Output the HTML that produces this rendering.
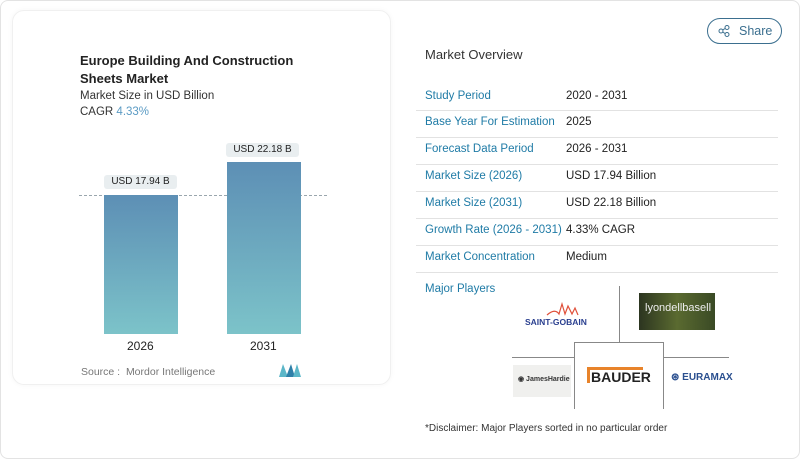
<!DOCTYPE html>
<html><head><style>
*{margin:0;padding:0;box-sizing:border-box}
body{width:800px;height:459px;background:#fff;font-family:"Liberation Sans",sans-serif;position:relative;overflow:hidden}
.abs{position:absolute}
.outer{left:0;top:0;width:800px;height:459px;border:1px solid #e3e3e3;border-radius:8px}
.card{left:12px;top:10px;width:379px;height:375px;border:1px solid #f0f0f0;border-radius:12px;box-shadow:0 0 6px rgba(0,0,0,0.04)}
.t{color:#222}
.lbl{left:425px;color:#1f7ba6;font-size:11.5px;white-space:nowrap}
.val{left:566px;color:#222;font-size:11.5px}
.sep{left:416px;width:362px;height:1px;background:#e2e2e2}
.bar{background:linear-gradient(#5d8fb5,#7cc3c9)}
.tag{background:#e9eef0;border-radius:3px;font-size:10px;color:#222;text-align:center;line-height:14px}
</style></head><body>
<div class="abs outer"></div>
<div class="abs card"></div>
<div class="abs t" style="left:80px;top:52px;font-size:13px;font-weight:bold;line-height:18px;width:240px">Europe Building And Construction Sheets Market</div>
<div class="abs t" style="left:80px;top:90px;font-size:11.5px;color:#333">Market Size in USD Billion</div>
<div class="abs t" style="left:80px;top:106px;font-size:11.5px;color:#333">CAGR <span style="color:#5b9bc4">4.33%</span></div>
<div class="abs" style="left:79px;top:195px;width:248px;border-top:1px dashed #9aa6ad"></div>
<div class="abs bar" style="left:104px;top:195px;width:74px;height:139px"></div>
<div class="abs bar" style="left:227px;top:162px;width:74px;height:172px"></div>
<div class="abs tag" style="left:104px;top:175px;width:73px">USD 17.94 B</div>
<div class="abs tag" style="left:226px;top:143px;width:73px">USD 22.18 B</div>
<div class="abs t" style="left:127px;top:339px;font-size:12px">2026</div>
<div class="abs t" style="left:250px;top:339px;font-size:12px">2031</div>
<div class="abs" style="left:81px;top:366px;font-size:10.5px;color:#777">Source :&nbsp; Mordor Intelligence</div>
<svg class="abs" style="left:279px;top:364px" width="22" height="13"><polygon points="0,13 4,0 9,13" fill="#5bb6c8"/><polygon points="7,13 12,0 16,13" fill="#2e7fa8"/><polygon points="14,13 18,0 22,13 " fill="#5bb6c8"/></svg>
<div class="abs" style="left:707px;top:18px;width:75px;height:26px;border:1px solid #3b6f8f;border-radius:13px;font-size:12.5px;color:#3b6f8f;line-height:24px;padding-left:31px">Share</div>
<svg class="abs" style="left:718px;top:25px" width="12" height="12"><circle cx="3" cy="6" r="2" fill="none" stroke="#3b6f8f"/><circle cx="9" cy="2.5" r="2" fill="none" stroke="#3b6f8f"/><circle cx="9" cy="9.5" r="2" fill="none" stroke="#3b6f8f"/><line x1="4.5" y1="5" x2="7.5" y2="3.3" stroke="#3b6f8f"/><line x1="4.5" y1="7" x2="7.5" y2="8.7" stroke="#3b6f8f"/></svg>
<div class="abs t" style="left:425px;top:47px;font-size:13px;color:#333">Market Overview</div>
<div class="abs lbl" style="top:90px">Study Period</div><div class="abs val" style="top:90px">2020 - 2031</div>
<div class="abs sep" style="top:110px"></div>
<div class="abs lbl" style="top:116px">Base Year For Estimation</div><div class="abs val" style="top:116px">2025</div>
<div class="abs sep" style="top:137px"></div>
<div class="abs lbl" style="top:143px">Forecast Data Period</div><div class="abs val" style="top:143px">2026 - 2031</div>
<div class="abs sep" style="top:164px"></div>
<div class="abs lbl" style="top:170px">Market Size (2026)</div><div class="abs val" style="top:170px">USD 17.94 Billion</div>
<div class="abs sep" style="top:191px"></div>
<div class="abs lbl" style="top:197px">Market Size (2031)</div><div class="abs val" style="top:197px">USD 22.18 Billion</div>
<div class="abs sep" style="top:218px"></div>
<div class="abs lbl" style="top:224px">Growth Rate (2026 - 2031)</div><div class="abs val" style="top:224px">4.33% CAGR</div>
<div class="abs sep" style="top:245px"></div>
<div class="abs lbl" style="top:251px">Market Concentration</div><div class="abs val" style="top:251px">Medium</div>
<div class="abs sep" style="top:272px"></div>
<div class="abs lbl" style="top:283px;font-size:11.5px">Major Players</div>
<div class="abs" style="left:619px;top:286px;width:1px;height:56px;background:#888"></div>
<div class="abs" style="left:512px;top:357px;width:217px;height:1px;background:#888"></div>
<div class="abs" style="left:574px;top:342px;width:90px;height:67px;border:1px solid #888;border-bottom:none;background:#fff"></div>
<div class="abs" style="left:525px;top:317px;font-size:8.5px;color:#2a3f8f;font-weight:bold">SAINT-GOBAIN</div>
<svg class="abs" style="left:545px;top:302px" width="35" height="14"><path d="M2,13 Q10,6 14,12 L17,2 L20,12 L23,4 L27,12 L30,6 L33,13" fill="none" stroke="#e0503a" stroke-width="1.2"/></svg>
<div class="abs" style="left:639px;top:293px;width:76px;height:37px;background:linear-gradient(90deg,#2c3520,#5a6a30,#3a4a25)"></div>
<div class="abs" style="left:645px;top:302px;font-size:11px;color:#eee">lyondellbasell</div>
<div class="abs" style="left:513px;top:365px;width:58px;height:32px;background:#f0f0ee"></div>
<div class="abs" style="left:518px;top:375px;font-size:7px;color:#333;font-weight:bold">◉ JamesHardie</div>
<div class="abs" style="left:587px;top:367px;width:3px;height:16px;background:#e8832a"></div>
<div class="abs" style="left:587px;top:367px;width:56px;height:3px;background:#e8832a"></div>
<div class="abs" style="left:591px;top:369px;font-size:14px;font-weight:bold;color:#222">BAUDER</div>
<div class="abs" style="left:671px;top:372px;font-size:10px;font-weight:bold;color:#2a4f8f">⊛ EURAMAX</div>
<div class="abs" style="left:425px;top:423px;font-size:10px;color:#333">*Disclaimer: Major Players sorted in no particular order</div>
</body></html>
